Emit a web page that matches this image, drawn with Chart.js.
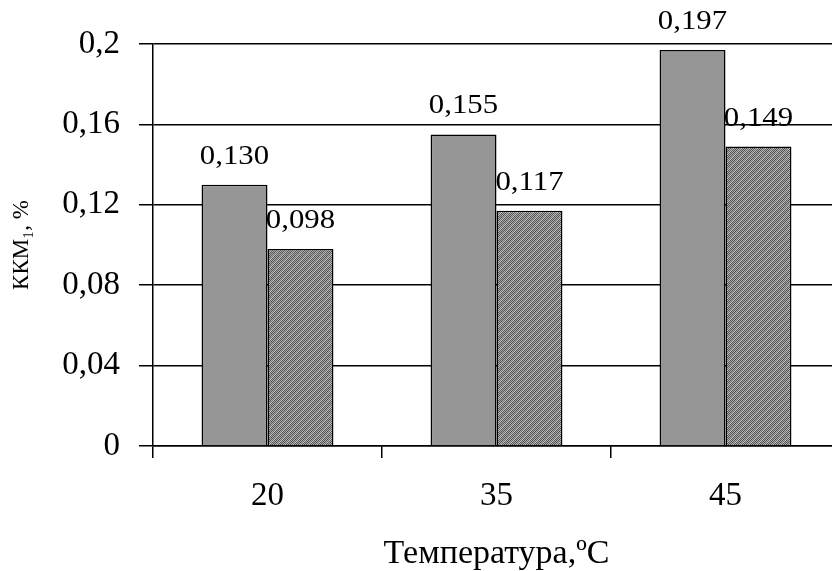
<!DOCTYPE html>
<html>
<head>
<meta charset="utf-8">
<script src="https://cdn.jsdelivr.net/npm/chart.js@4/dist/chart.umd.min.js"></script>
<style>
  html, body { margin: 0; padding: 0; background: #fff; overflow: hidden; }
  #wrap { width: 845px; height: 571px; }
</style>
</head>
<body>
<div id="wrap"><canvas id="chart" width="845" height="571"></canvas></div>
<script>
// данные
const temperatures = ["20", "35", "45"];
const seriesA = [0.130, 0.155, 0.197];
const seriesB = [0.098, 0.117, 0.149];
const yTickLabels = ["0", "0,04", "0,08", "0,12", "0,16", "0,2"];

const serif = "'Liberation Serif', 'Times New Roman', serif";

// мелкая штриховка для второй серии
function makeHatch() {
    const c = document.createElement("canvas");
    c.width = 8; c.height = 8;
    const g = c.getContext("2d");
    for (let x = 0; x < 8; x++) {
        for (let y = 0; y < 8; y++) {
            const stripe = (x + y) % 8 < 2;
            const dark = (x + y) % 2 === 0;
            let col;
            if (stripe) col = dark ? "#6e6e6e" : "#c4c4c4";
            else col = dark ? "#555555" : "#aaaaaa";
            g.fillStyle = col;
            g.fillRect(x, y, 1, 1);
        }
    }
    return g.createPattern(c, "repeat");
}

// подписи значений над столбцами
const valueLabels = {
    id: "valueLabels",
    afterDatasetsDraw(chart) {
        const ctx = chart.ctx;
        chart.data.datasets.forEach((ds, i) => {
            chart.getDatasetMeta(i).data.forEach((bar, j) => {
                const txt = ds.data[j].toFixed(3).replace(".", ",");
                ctx.save();
                ctx.translate(bar.x, bar.y - 21);
                ctx.scale(1.1, 1);
                ctx.font = "28px " + serif;
                ctx.fillStyle = "#000";
                ctx.textAlign = "center";
                ctx.textBaseline = "alphabetic";
                ctx.fillText(txt, 0, 0);
                ctx.restore();
            });
        });
    }
};

const ctx = document.getElementById("chart").getContext("2d");
new Chart(ctx, {
    type: "bar",
    data: {
        labels: temperatures,
        datasets: [
            {
                data: seriesA,
                backgroundColor: "#969696",
                borderColor: "#000",
                borderWidth: 1.5
            },
            {
                data: seriesB,
                backgroundColor: makeHatch(),
                borderColor: "#000",
                borderWidth: 1.5
            }
        ]
    },
    options: {
        responsive: false,
        animation: false,
        categoryPercentage: 0.576,
        barPercentage: 1,
        layout: { padding: { top: 44, right: 5, left: 0, bottom: 0 } },
        plugins: {
            legend: { display: false },
            tooltip: { enabled: false }
        },
        scales: {
            x: {
                afterFit: s => { s.height = 125; },
                grid: {
                    drawOnChartArea: false,
                    color: "#000",
                    lineWidth: 1.5,
                    tickLength: 12
                },
                border: { color: "#000", width: 1.5 },
                ticks: {
                    color: "#000",
                    padding: 19,
                    font: { family: serif, size: 33 }
                },
                title: {
                    display: true,
                    text: "Температура,ºC",
                    color: "#000",
                    font: { family: serif, size: 34, lineHeight: 1 },
                    padding: { top: 0, bottom: 0 }
                }
            },
            y: {
                min: 0,
                max: 0.2,
                afterFit: s => { s.width = 153; },
                grid: {
                    color: "#000",
                    lineWidth: 1.5,
                    tickLength: 14
                },
                border: { color: "#000", width: 1.5 },
                ticks: {
                    stepSize: 0.04,
                    color: "#000",
                    padding: 19,
                    font: { family: serif, size: 33 },
                    callback: (v, i) => yTickLabels[i]
                },
                title: {
                    display: true,
                    text: "ККМ₁, %",
                    color: "#000",
                    font: { family: serif, size: 23 },
                    padding: 8
                }
            }
        }
    },
    plugins: [valueLabels]
});
</script>
</body>
</html>
